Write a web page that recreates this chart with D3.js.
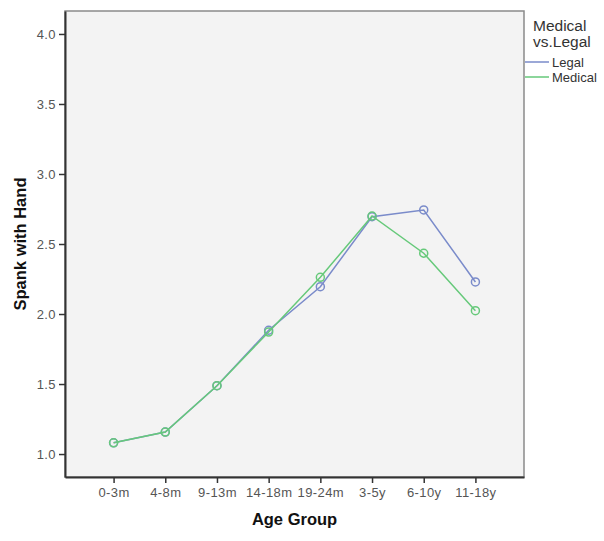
<!DOCTYPE html>
<html>
<head>
<meta charset="utf-8">
<script src="https://cdn.jsdelivr.net/npm/d3@7"></script>
<style>
  body { margin: 0; background: #fff; }
  svg { display: block; overflow: visible; }
</style>
</head>
<body>
<svg id="chart" width="604" height="541"></svg>
<script>
// categories and series values
const ageGroups = ["0-3m", "4-8m", "9-13m", "14-18m", "19-24m", "3-5y", "6-10y", "11-18y"];
const legalValues = [1.08, 1.157, 1.488, 1.884, 2.195, 2.695, 2.743, 2.229];
const medicalValues = [1.08, 1.157, 1.488, 1.871, 2.262, 2.70, 2.434, 2.024];
const yTicks = [1.0, 1.5, 2.0, 2.5, 3.0, 3.5, 4.0];
const seriesNames = ["Legal", "Medical"];
const seriesColors = ["#7a8bca", "#66c97a"];

const series = [
  { name: seriesNames[0], color: seriesColors[0], values: legalValues },
  { name: seriesNames[1], color: seriesColors[1], values: medicalValues }
];

const font = "Liberation Sans, Arial, sans-serif";
const padding = { top: 11, right: 80, bottom: 64, left: 65 };
const width = 604, height = 541;
const innerWidth = width - padding.left - padding.right;
const innerHeight = height - padding.top - padding.bottom;

const svg = d3.select("#chart");
const g = svg.append("g").attr("transform", `translate(${padding.left},${padding.top})`);

const x = d3.scalePoint().domain(ageGroups).range([0, innerWidth]).padding(0.94);
const y = d3.scaleLinear().domain([0.836, 4.164]).range([innerHeight, 0]);

// plot background + frame
g.append("rect")
  .attr("width", innerWidth)
  .attr("height", innerHeight)
  .attr("fill", "#f3f3f3")
  .attr("stroke", "#8a8a8a")
  .attr("stroke-width", 1.5);

// axes
const styleAxis = sel => {
  sel.attr("font-size", 13).attr("font-family", font);
  sel.select(".domain").attr("stroke", "#333").attr("stroke-width", 2);
  sel.selectAll(".tick line").attr("stroke", "#333").attr("stroke-width", 1.5);
  sel.selectAll(".tick text").attr("fill", "#555").attr("letter-spacing", 0.4);
};

const yAxis = d3.axisLeft(y).tickValues(yTicks).tickFormat(d3.format(".1f"))
  .tickSizeInner(6).tickSizeOuter(0).tickPadding(3);
g.append("g").call(yAxis).call(styleAxis);

const xAxis = d3.axisBottom(x).tickSizeInner(6).tickSizeOuter(0).tickPadding(5);
g.append("g").attr("transform", `translate(0,${innerHeight})`).call(xAxis).call(styleAxis);

g.append("text")
  .attr("x", innerWidth / 2)
  .attr("y", innerHeight + 48)
  .attr("text-anchor", "middle")
  .attr("font-family", font)
  .attr("font-size", 16.5)
  .attr("font-weight", "bold")
  .attr("fill", "#111")
  .text("Age Group");

g.append("text")
  .attr("transform", `translate(${-padding.left + 26},${innerHeight / 2})rotate(-90)`)
  .attr("text-anchor", "middle")
  .attr("font-family", font)
  .attr("font-size", 16.5)
  .attr("font-weight", "bold")
  .attr("fill", "#111")
  .text("Spank with Hand");

// lines and markers
const line = d3.line()
  .x((d, i) => x(ageGroups[i]))
  .y(d => y(d));

series.forEach(s => {
  const sg = g.append("g");
  sg.append("path")
    .datum(s.values)
    .attr("fill", "none")
    .attr("stroke", s.color)
    .attr("stroke-width", 1.5)
    .attr("d", line);
  sg.selectAll("circle")
    .data(s.values)
    .enter()
    .append("circle")
    .attr("cx", (d, i) => x(ageGroups[i]))
    .attr("cy", d => y(d))
    .attr("r", 4)
    .attr("fill", "none")
    .attr("stroke", s.color)
    .attr("stroke-width", 1.5);
});

// legend
const legend = svg.append("g")
  .attr("font-family", font)
  .attr("fill", "#333")
  .attr("transform", `translate(${padding.left + innerWidth},0)`);
legend.append("text").attr("x", 9).attr("y", 30.5).attr("font-size", 15.5).text("Medical");
legend.append("text").attr("x", 9).attr("y", 47).attr("font-size", 15.5).text("vs.Legal");
const items = legend.selectAll(".item")
  .data(series)
  .enter()
  .append("g")
  .attr("transform", (d, i) => `translate(0,${62 + i * 15})`);
items.append("line")
  .attr("x1", 1).attr("x2", 25)
  .attr("stroke", d => d.color)
  .attr("stroke-width", 1.5);
items.append("text")
  .attr("x", 28)
  .attr("dy", "0.35em")
  .attr("font-size", 13)
  .text(d => d.name);
</script>
</body>
</html>
